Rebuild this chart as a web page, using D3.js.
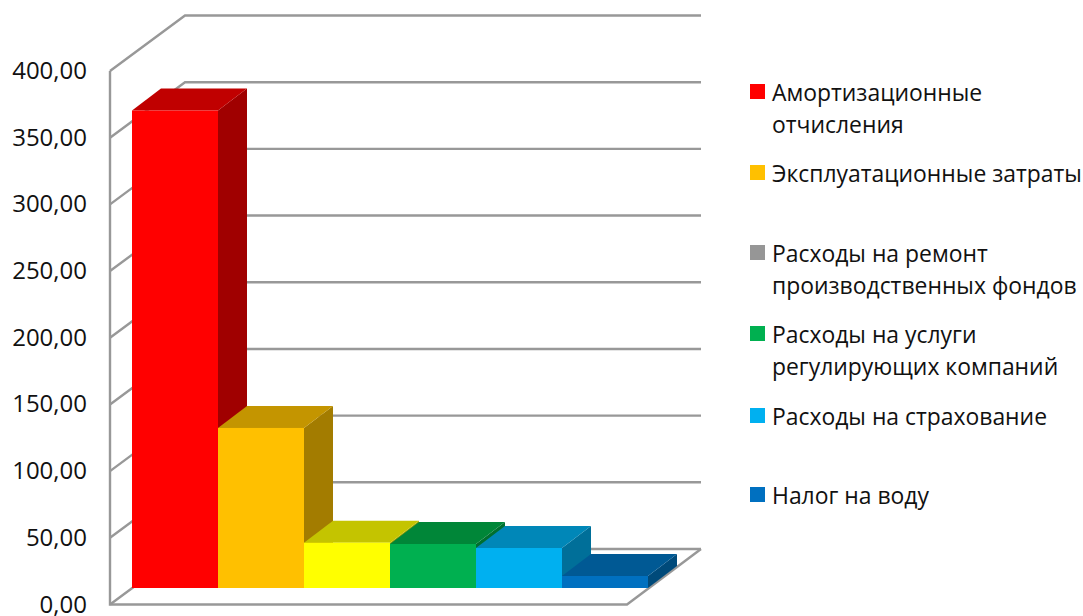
<!DOCTYPE html>
<html><head><meta charset="utf-8">
<script src="https://cdn.jsdelivr.net/npm/d3@7"></script>
<style>html,body{margin:0;padding:0;background:#fff}svg{display:block}text{font-family:"Open Sans","Noto Sans",sans-serif;fill:#111}</style>
</head><body><svg id="c" width="1083" height="616"></svg>
<script>
const categories=["Амортизационные отчисления","Эксплуатационные затраты","Расходы на ремонт производственных фондов","Расходы на услуги регулирующих компаний","Расходы на страхование","Налог на воду"];
const values=[358,120,34,33,30,9];
const frontColors=["#ff0000","#ffc000","#ffff00","#00b050","#00b0f0","#0070c0"];
const topColors=["#c00000","#c49500","#c4c400","#008638","#0087b8","#005994"];
const sideColors=["#a00000","#a37c00","#a3a300","#006f2f","#006f99","#004a7a"];
const legendColors=["#ff0000","#ffc000","#969696","#00b050","#00b0f0","#0070c0"];
const legendLines=[["Амортизационные","отчисления"],["Эксплуатационные затраты"],["Расходы на ремонт","производственных фондов"],["Расходы на услуги","регулирующих компаний"],["Расходы на страхование"],["Налог на воду"]];
const legendTops=[84,165,245,326,408,487];
const tickValues=[0,50,100,150,200,250,300,350,400];

const svg=d3.select("#c");
const y=d3.scaleLinear().domain([0,400]).range([604.5,71]);
const x=d3.scaleBand().domain(categories).range([132,648]);
const wall={left:110,back:185,right:701,floorFront:627,dx:75,dy:-55.5};
const grey="#989898";
const line=d3.line();

const grid=svg.append("g").attr("fill","none").attr("stroke",grey).attr("stroke-width",2.4);
tickValues.forEach(t=>{
  grid.append("path").attr("d",line([[wall.left,y(t)],[wall.back,y(t)+wall.dy],[wall.right,y(t)+wall.dy]]));
});
grid.append("path").attr("d",line([[wall.left,y(400)],[wall.left,y(0)],[wall.floorFront,y(0)],[wall.right,y(0)+wall.dy]]));

const barBase=y(0)-16.5, dd=29, ddy=-22;
const v=d3.scaleLinear().domain([0,400]).range([0,y(0)-y(400)]);
categories.forEach((c,i)=>{
  const x0=x(c),x1=x0+x.bandwidth(),top=barBase-v(values[i]);
  const g=svg.append("g");
  g.append("path").attr("fill",sideColors[i]).attr("d",line([[x1,top],[x1+dd,top+ddy],[x1+dd,barBase+ddy],[x1,barBase]])+"Z");
  g.append("path").attr("fill",topColors[i]).attr("d",line([[x0,top],[x0+dd,top+ddy],[x1+dd,top+ddy],[x1,top]])+"Z");
  g.append("rect").attr("fill",frontColors[i]).attr("x",x0).attr("y",top).attr("width",x.bandwidth()).attr("height",barBase-top);
});

svg.append("g").selectAll("text").data(tickValues).join("text")
  .attr("x",87).attr("y",t=>y(t)+8).attr("text-anchor","end").attr("font-size",24)
  .text(t=>d3.format(".2f")(t).replace(".",","));

const lg=svg.append("g");
legendLines.forEach((ls,i)=>{
  lg.append("rect").attr("x",750).attr("y",legendTops[i]).attr("width",15).attr("height",15).attr("fill",legendColors[i]);
  ls.forEach((s,j)=>{
    lg.append("text").attr("x",772).attr("y",legendTops[i]+17+j*31.5).attr("font-size",22.9).text(s);
  });
});
</script></body></html>
